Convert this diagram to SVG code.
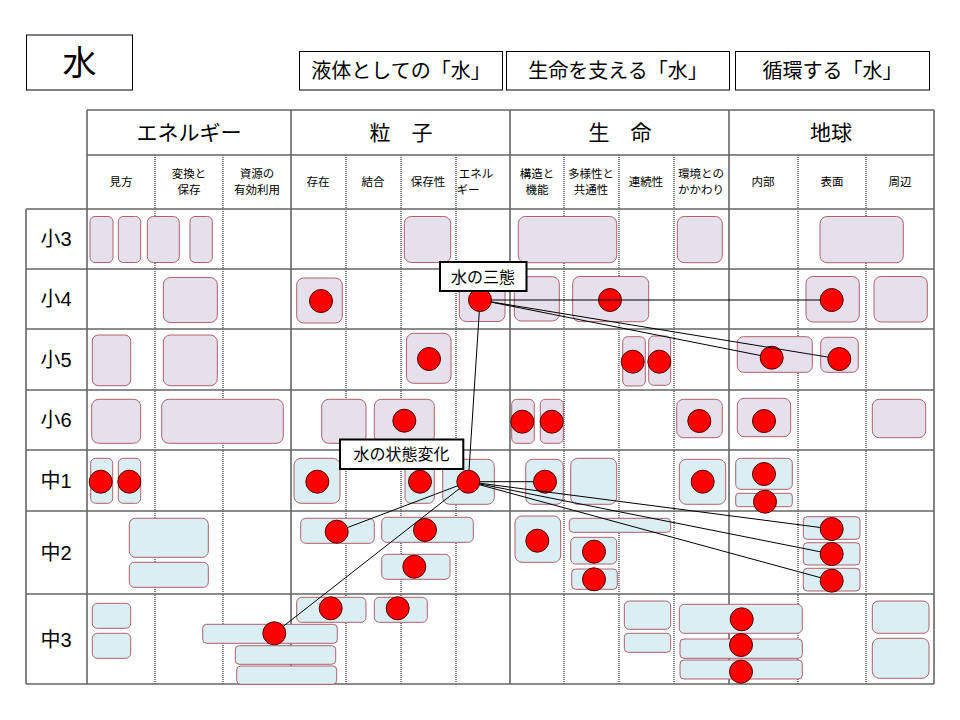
<svg xmlns="http://www.w3.org/2000/svg" width="960" height="720" viewBox="0 0 960 720">
<style>
text{font-family:'Liberation Sans','Noto Sans CJK JP',sans-serif;fill:#000;text-anchor:middle;dominant-baseline:central}
.ttl{fill:#fff;stroke:#000;stroke-width:1}
.th{font-size:20px}
.lbl{fill:#fff;stroke:#000;stroke-width:2}
.maj{stroke:#666;stroke-width:1.6;fill:none}
.dash{stroke:#000;stroke-width:1;stroke-dasharray:1 1;fill:none}
.lv{fill:#E5E0EC;stroke:#B0606A;stroke-width:1}
.bl{fill:#DAEEF3;stroke:#B0606A;stroke-width:1}
.dot{fill:#FF0000;stroke:#500000;stroke-width:1}
.cn{stroke:#000;stroke-width:1;fill:none}
.cat{font-size:21px}
.sub{font-size:11.5px}
.row{font-size:20px}
</style>

<g id="title">
<rect class="ttl" x="26.5" y="35" width="106" height="55"/>
<text x="79.5" y="63" font-size="34">水</text>
</g>
<g id="theme1"><rect class="ttl" x="299.5" y="51.5" width="203" height="38.5"/><text class="th" x="401" y="71">液体としての「水」</text></g>
<g id="theme2"><rect class="ttl" x="506.5" y="51.5" width="223" height="38.5"/><text class="th" x="618" y="71">生命を支える「水」</text></g>
<g id="theme3"><rect class="ttl" x="735.5" y="51.5" width="194" height="38.5"/><text class="th" x="832.5" y="71">循環する「水」</text></g>

<g id="grid">
<path class="dash" d="M155 155V684M223 155V684M346 155V684M401 155V684M456 155V684M564 155V684M619 155V684M674 155V684M798 155V684M866 155V684"/>
<path class="maj" d="M87 110H934M87 155H934M26 209H934M26 269H934M26 329H934M26 390H934M26 450H934M26 511H934M26 594H934M26 684H934"/>
<path class="maj" d="M26 209V684M87 110V684M291 110V684M510 110V684M729 110V684M934 110V684"/>
</g>

<g id="headers">
<text class="cat" x="189" y="132">エネルギー</text>
<text class="cat" x="401" y="132">粒　子</text>
<text class="cat" x="620" y="132">生　命</text>
<text class="cat" x="831" y="132">地球</text>
<text class="sub" x="121" y="182">見方</text>
<text class="sub" x="189" y="174">変換と</text><text class="sub" x="189" y="190">保存</text>
<text class="sub" x="257" y="174">資源の</text><text class="sub" x="257" y="190">有効利用</text>
<text class="sub" x="318" y="182">存在</text>
<text class="sub" x="373" y="182">結合</text>
<text class="sub" x="428" y="182">保存性</text>
<text class="sub" x="476" y="174">エネル</text><text class="sub" x="468" y="190">ギー</text>
<text class="sub" x="537" y="174">構造と</text><text class="sub" x="537" y="190">機能</text>
<text class="sub" x="591" y="174" font-size="10.5">多様性と</text><text class="sub" x="591" y="190" font-size="10.5">共通性</text>
<text class="sub" x="646" y="182">連続性</text>
<text class="sub" x="701" y="174">環境との</text><text class="sub" x="701" y="190">かかわり</text>
<text class="sub" x="763" y="182">内部</text>
<text class="sub" x="832" y="182">表面</text>
<text class="sub" x="900" y="182">周辺</text>
</g>

<g id="rows">
<text class="row" x="56" y="239">小3</text>
<text class="row" x="56" y="299">小4</text>
<text class="row" x="56" y="360">小5</text>
<text class="row" x="56" y="420">小6</text>
<text class="row" x="56" y="481">中1</text>
<text class="row" x="56" y="553">中2</text>
<text class="row" x="56" y="640">中3</text>
</g>

<!-- 小3 -->
<g id="s3-1"><rect class="lv" x="90" y="216.5" width="23" height="46" rx="5"/></g>
<g id="s3-2"><rect class="lv" x="118.3" y="216.5" width="22.4" height="46" rx="5"/></g>
<g id="s3-3"><rect class="lv" x="147.3" y="216.5" width="32" height="46" rx="6"/></g>
<g id="s3-4"><rect class="lv" x="190" y="216.5" width="22.3" height="46" rx="5"/></g>
<g id="s3-5"><rect class="lv" x="404.3" y="216.5" width="46.4" height="46" rx="7"/></g>
<g id="s3-6"><rect class="lv" x="518.3" y="216.5" width="98.4" height="46.2" rx="7"/></g>
<g id="s3-7"><rect class="lv" x="677.3" y="216.5" width="45" height="46.2" rx="7"/></g>
<g id="s3-8"><rect class="lv" x="820" y="216.5" width="83.3" height="46.2" rx="7"/></g>

<!-- 小4 -->
<g id="s4-1"><rect class="lv" x="163.3" y="277.5" width="54" height="45" rx="7"/></g>
<g id="s4-2"><rect class="lv" x="296.7" y="278" width="45.6" height="45" rx="7"/><circle class="dot" cx="321" cy="301" r="11.5"/></g>
<g id="s4-3"><rect class="lv" x="459.3" y="277" width="45.7" height="44.5" rx="7"/><circle class="dot" cx="480" cy="300" r="11.5"/></g>
<g id="s4-4"><rect class="lv" x="514.3" y="276.7" width="45" height="44.3" rx="7"/></g>
<g id="s4-5"><rect class="lv" x="572.7" y="276.5" width="76" height="45.2" rx="7"/><circle class="dot" cx="610" cy="300" r="11.5"/></g>
<g id="s4-6"><rect class="lv" x="806" y="276.5" width="53.3" height="45.5" rx="7"/><circle class="dot" cx="831.7" cy="300" r="11.5"/></g>
<g id="s4-7"><rect class="lv" x="874" y="276.5" width="53.3" height="45.5" rx="7"/></g>

<!-- 小5 -->
<g id="s5-1"><rect class="lv" x="92.3" y="335" width="38.4" height="50.7" rx="6"/></g>
<g id="s5-2"><rect class="lv" x="163.3" y="335" width="54" height="50.7" rx="7"/></g>
<g id="s5-3"><rect class="lv" x="406.5" y="333.3" width="44.5" height="50" rx="7"/><circle class="dot" cx="429" cy="359" r="11.5"/></g>
<g id="s5-4"><rect class="lv" x="622.7" y="336.7" width="22.6" height="49.3" rx="5"/><circle class="dot" cx="632.7" cy="361.7" r="11.5"/></g>
<g id="s5-5"><rect class="lv" x="648.7" y="336" width="22" height="49.3" rx="5"/><circle class="dot" cx="659.3" cy="361.7" r="11.5"/></g>
<g id="s5-6"><rect class="lv" x="737.3" y="336.7" width="75" height="35.6" rx="6"/><circle class="dot" cx="771.7" cy="357.7" r="11.5"/></g>
<g id="s5-7"><rect class="lv" x="820.7" y="337.3" width="37.6" height="35" rx="6"/><circle class="dot" cx="839.3" cy="359" r="11.5"/></g>

<!-- 小6 -->
<g id="s6-1"><rect class="lv" x="91.7" y="399.3" width="49" height="44" rx="7"/></g>
<g id="s6-2"><rect class="lv" x="161.7" y="399.3" width="121.6" height="44" rx="7"/></g>
<g id="s6-3"><rect class="lv" x="321.7" y="399.3" width="44.3" height="44" rx="7"/></g>
<g id="s6-4"><rect class="lv" x="374.3" y="399.3" width="60" height="44" rx="7"/><circle class="dot" cx="404.3" cy="420.7" r="11.5"/></g>
<g id="s6-5"><rect class="lv" x="511.7" y="399.3" width="22.6" height="44" rx="5"/><circle class="dot" cx="522.3" cy="421.7" r="11.5"/></g>
<g id="s6-6"><rect class="lv" x="540.3" y="399.3" width="23" height="44" rx="5"/><circle class="dot" cx="551.7" cy="421.7" r="11.5"/></g>
<g id="s6-7"><rect class="lv" x="676.7" y="399.3" width="45.6" height="38.4" rx="7"/><circle class="dot" cx="699.3" cy="421" r="11.5"/></g>
<g id="s6-8"><rect class="lv" x="737.3" y="398.3" width="53.4" height="38.4" rx="7"/><circle class="dot" cx="764" cy="421" r="11.5"/></g>
<g id="s6-9"><rect class="lv" x="872.3" y="399.3" width="53.4" height="38.4" rx="7"/></g>

<!-- 中1 -->
<g id="c1-1"><rect class="bl" x="90.7" y="458.3" width="22" height="45" rx="5"/><circle class="dot" cx="100.7" cy="481.7" r="11.5"/></g>
<g id="c1-2"><rect class="bl" x="118.3" y="458.3" width="22.4" height="45" rx="5"/><circle class="dot" cx="129.3" cy="481.7" r="11.5"/></g>
<g id="c1-3"><rect class="bl" x="294" y="458.3" width="46" height="45" rx="7"/><circle class="dot" cx="317.3" cy="481.7" r="11.5"/></g>
<g id="c1-4"><rect class="bl" x="405" y="458.3" width="29.3" height="45" rx="6"/><circle class="dot" cx="420" cy="481.7" r="11.5"/></g>
<g id="c1-5"><rect class="bl" x="442.7" y="459.3" width="51.6" height="45" rx="7"/><circle class="dot" cx="468.3" cy="481.7" r="11.5"/></g>
<g id="c1-6"><rect class="bl" x="525.7" y="459.3" width="37.6" height="45" rx="7"/><circle class="dot" cx="545" cy="481.7" r="11.5"/></g>
<g id="c1-7"><rect class="bl" x="570.7" y="458.3" width="46" height="46" rx="7"/></g>
<g id="c1-8"><rect class="bl" x="679.3" y="459.3" width="46.4" height="45" rx="7"/><circle class="dot" cx="702.7" cy="481.7" r="11.5"/></g>
<g id="c1-9"><rect class="bl" x="735.7" y="458.3" width="56.6" height="31" rx="5"/><circle class="dot" cx="764" cy="474" r="11.5"/></g>
<g id="c1-10"><rect class="bl" x="735.7" y="493.3" width="56.6" height="13.4" rx="3"/><circle class="dot" cx="765" cy="501.7" r="11.5"/></g>

<!-- 中2 -->
<g id="c2-1"><rect class="bl" x="129.3" y="518.3" width="79" height="39" rx="6"/></g>
<g id="c2-2"><rect class="bl" x="129.3" y="562.3" width="79" height="25" rx="5"/></g>
<g id="c2-3"><rect class="bl" x="300.7" y="518.3" width="73.6" height="25" rx="5"/><circle class="dot" cx="336.7" cy="531.7" r="11.5"/></g>
<g id="c2-4"><rect class="bl" x="381.7" y="517.3" width="91.6" height="25" rx="5"/><circle class="dot" cx="425" cy="530" r="11.5"/></g>
<g id="c2-5"><rect class="bl" x="381.7" y="554.3" width="68.3" height="25" rx="5"/><circle class="dot" cx="414.3" cy="566.7" r="11.5"/></g>
<g id="c2-6"><rect class="bl" x="515" y="516" width="45.7" height="46.3" rx="7"/><circle class="dot" cx="537.3" cy="540.7" r="11.5"/></g>
<g id="c2-7"><rect class="bl" x="569.3" y="518.3" width="101.4" height="14" rx="4"/></g>
<g id="c2-8"><rect class="bl" x="570.7" y="537.3" width="46" height="26.7" rx="5"/><circle class="dot" cx="594" cy="551.7" r="11.5"/></g>
<g id="c2-9"><rect class="bl" x="571.7" y="569" width="45.6" height="20.3" rx="4"/><circle class="dot" cx="594" cy="579.3" r="11.5"/></g>
<g id="c2-10"><rect class="bl" x="803.3" y="516.7" width="56.7" height="22.6" rx="4"/><circle class="dot" cx="831.7" cy="529" r="11.5"/></g>
<g id="c2-11"><rect class="bl" x="803.3" y="542.7" width="56.7" height="22.3" rx="4"/><circle class="dot" cx="831.7" cy="554" r="11.5"/></g>
<g id="c2-12"><rect class="bl" x="803.3" y="568.3" width="56.7" height="22.7" rx="4"/><circle class="dot" cx="831.7" cy="580.7" r="11.5"/></g>

<!-- 中3 -->
<g id="c3-1"><rect class="bl" x="92.3" y="603.3" width="38.4" height="25" rx="5"/></g>
<g id="c3-2"><rect class="bl" x="92.3" y="633.3" width="38.4" height="25" rx="5"/></g>
<g id="c3-3"><rect class="bl" x="296.7" y="597.3" width="69.3" height="25" rx="5"/><circle class="dot" cx="330.7" cy="608.3" r="11.5"/></g>
<g id="c3-4"><rect class="bl" x="374.3" y="597.3" width="53" height="25" rx="5"/><circle class="dot" cx="397.7" cy="608.3" r="11.5"/></g>
<g id="c3-6"><rect class="bl" x="235.3" y="645.7" width="100.4" height="18.6" rx="4"/></g>
<g id="c3-7"><rect class="bl" x="236.7" y="666" width="100" height="18.3" rx="4"/></g>
<g id="c3-5"><rect class="bl" x="202.7" y="624.3" width="134.6" height="19" rx="4"/><circle class="dot" cx="274.3" cy="633.3" r="11.5"/></g>
<g id="c3-8"><rect class="bl" x="624.3" y="601" width="46.4" height="28.3" rx="5"/></g>
<g id="c3-9"><rect class="bl" x="624.3" y="633.3" width="46.4" height="19" rx="4"/></g>
<g id="c3-10"><rect class="bl" x="679.3" y="604.3" width="123" height="29" rx="5"/></g>
<g id="c3-11"><rect class="bl" x="680" y="639" width="122.3" height="19.3" rx="4"/></g>
<g id="c3-12"><rect class="bl" x="680" y="660" width="122.3" height="19" rx="4"/></g>
<g id="c3-13"><rect class="bl" x="872.3" y="601" width="56.7" height="32.3" rx="6"/></g>
<g id="c3-14"><rect class="bl" x="872.3" y="638.3" width="56.7" height="40" rx="7"/></g>
<g id="c3-dots"><circle class="dot" cx="741.7" cy="619.3" r="11.5"/><circle class="dot" cx="741" cy="645" r="11.5"/><circle class="dot" cx="741" cy="671.7" r="11.5"/></g>

<g id="connectors">
<line class="cn" x1="491.5" y1="300" x2="820.2" y2="300"/>
<line class="cn" x1="491.3" y1="302.2" x2="760.4" y2="355.5"/>
<line class="cn" x1="491.3" y1="301.9" x2="828" y2="357.1"/>
<line class="cn" x1="479.3" y1="311.5" x2="469" y2="470.2"/>
<line class="cn" x1="479.8" y1="481.7" x2="533.5" y2="481.7"/>
<line class="cn" x1="479.7" y1="483.2" x2="820.3" y2="527.5"/>
<line class="cn" x1="479.6" y1="483.9" x2="820.4" y2="551.8"/>
<line class="cn" x1="479.4" y1="484.7" x2="820.6" y2="577.7"/>
<line class="cn" x1="457.6" y1="485.8" x2="347.4" y2="527.6"/>
<line class="cn" x1="459.2" y1="488.8" x2="283.4" y2="626.2"/>
</g>

<g id="label-santai">
<rect class="lbl" x="440" y="262" width="86.5" height="29"/>
<text x="483" y="277" font-size="16">水の三態</text>
</g>
<g id="label-henka">
<rect class="lbl" x="340" y="439.5" width="123.3" height="29.5"/>
<text x="401.5" y="454.5" font-size="16">水の状態変化</text>
</g>
</svg>
